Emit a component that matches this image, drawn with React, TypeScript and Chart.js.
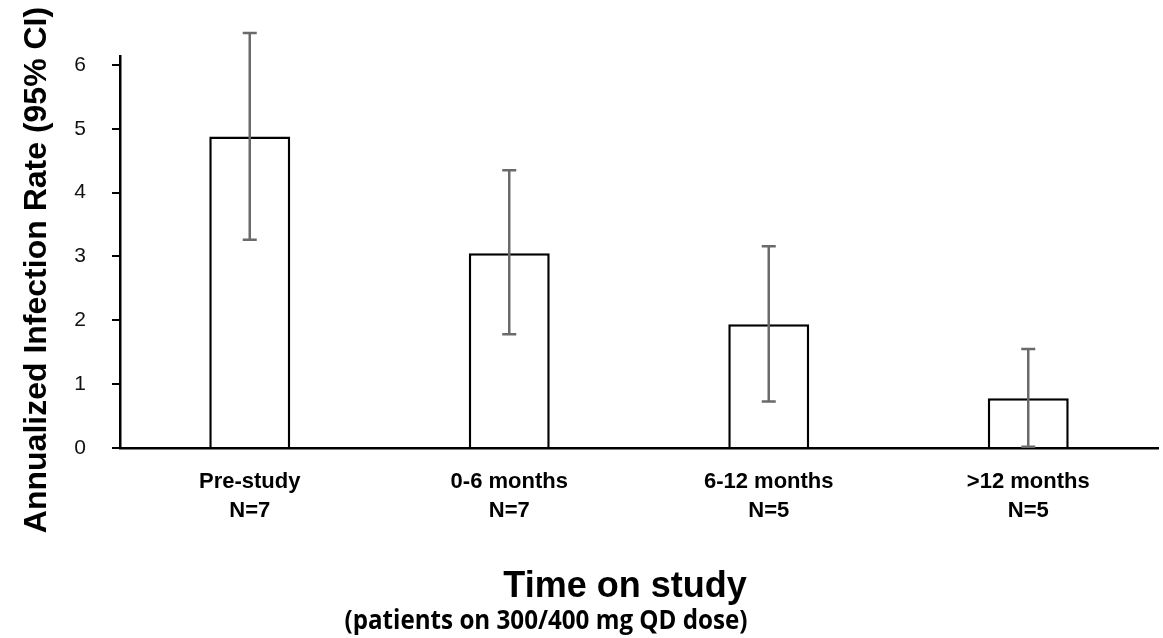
import React, { useEffect, useRef } from "react";
import { Chart, registerables } from "chart.js";

Chart.register(...registerables);

const categories = ["Pre-study", "0-6 months", "6-12 months", ">12 months"];
const sampleSizes = ["N=7", "N=7", "N=5", "N=5"];
const rates = [4.88, 3.05, 1.94, 0.78];
const ciLow = [3.26, 1.78, 0.73, 0.02];
const ciHigh = [6.5, 4.35, 3.16, 1.55];
const yTicks = [0, 1, 2, 3, 4, 5, 6];

const yTitle = "Annualized Infection Rate (95% CI)";
const xTitle = "Time on study";
const xSubtitle = "(patients on 300/400 mg QD dose)";

const errorBarPlugin = {
  id: "errorBars",
  afterDatasetsDraw(chart: any) {
    const meta = chart.getDatasetMeta(0);
    const y = chart.scales.y;
    const ctx = chart.ctx;
    ctx.save();
    ctx.strokeStyle = "#6a6a6a";
    ctx.lineWidth = 2.5;
    meta.data.forEach((bar: any, i: number) => {
      const x = bar.x;
      const yl = y.getPixelForValue(ciLow[i]);
      const yh = y.getPixelForValue(ciHigh[i]);
      const cap = 7;
      ctx.beginPath();
      ctx.moveTo(x, yl);
      ctx.lineTo(x, yh);
      ctx.moveTo(x - cap, yh);
      ctx.lineTo(x + cap, yh);
      ctx.moveTo(x - cap, yl);
      ctx.lineTo(x + cap, yl);
      ctx.stroke();
    });
    ctx.restore();
  },
};

const titlesPlugin = {
  id: "titles",
  afterDraw(chart: any) {
    const ctx = chart.ctx;
    ctx.save();
    ctx.fillStyle = "#000";
    ctx.translate(46, 270);
    ctx.rotate(-Math.PI / 2);
    ctx.font = "bold 32px 'Liberation Sans', Arial, sans-serif";
    ctx.textAlign = "center";
    ctx.textBaseline = "alphabetic";
    ctx.fillText(yTitle, 0, 0);
    ctx.restore();

    ctx.save();
    ctx.fillStyle = "#000";
    ctx.textAlign = "center";
    ctx.textBaseline = "alphabetic";
    ctx.font = "bold 36px 'Liberation Sans', Arial, sans-serif";
    ctx.fillText(xTitle, 625, 597, 256);
    ctx.font = "bold 26px 'Open Sans', sans-serif";
    ctx.fillText(xSubtitle, 546, 629, 403);
    ctx.restore();
  },
};

export default function App() {
  const ref = useRef<HTMLCanvasElement | null>(null);
  useEffect(() => {
    if (!ref.current) return;
    const chart = new Chart(ref.current, {
      type: "bar",
      data: {
        labels: categories.map((c, i) => [c, sampleSizes[i]]),
        datasets: [
          {
            data: rates,
            backgroundColor: "#ffffff",
            borderColor: "#000000",
            borderWidth: 2.5,
            borderSkipped: "bottom",
            barPercentage: 0.312,
            categoryPercentage: 1,
          },
        ],
      },
      options: {
        animation: false,
        responsive: true,
        maintainAspectRatio: false,
        layout: { padding: { top: 56, right: 5, left: 0, bottom: 0 } },
        plugins: { legend: { display: false }, tooltip: { enabled: false } },
        scales: {
          x: {
            grid: { display: false, drawTicks: false },
            border: { display: true, color: "#000", width: 2.5 },
            ticks: {
              color: "#000",
              padding: 20,
              maxRotation: 0,
              font: { family: "'Liberation Sans', Arial, sans-serif", size: 22, weight: "bold", lineHeight: 1.3 },
            },
            afterFit(scale: any) {
              scale.height = 190;
            },
          },
          y: {
            min: 0,
            max: 6.14,
            afterBuildTicks(scale: any) {
              scale.ticks = yTicks.map((v) => ({ value: v }));
            },
            grid: {
              display: true,
              drawOnChartArea: false,
              drawTicks: true,
              tickLength: 8,
              color: "#000",
              lineWidth: 2,
            },
            border: { display: true, color: "#000", width: 2.5 },
            ticks: {
              color: "#111",
              padding: 26,
              font: { family: "'Liberation Sans', Arial, sans-serif", size: 21 },
            },
            afterFit(scale: any) {
              scale.width = 120;
            },
          },
        },
      },
      plugins: [errorBarPlugin, titlesPlugin],
    });
    return () => chart.destroy();
  }, []);
  return (
    <div style={{ position: "absolute", left: 0, top: 0, width: 1163, height: 638, background: "#fff" }}>
      <canvas ref={ref} />
    </div>
  );
}
